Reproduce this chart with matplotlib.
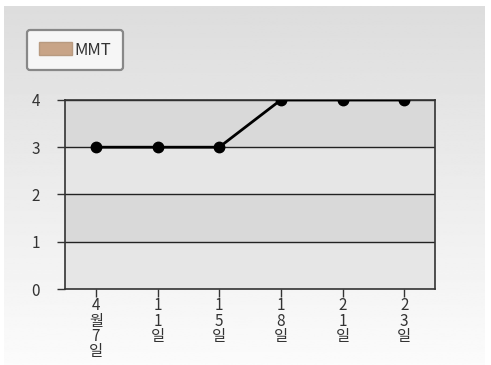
import matplotlib
matplotlib.use("Agg")
import matplotlib.pyplot as plt
import numpy as np
from matplotlib.patches import Patch

plt.rcParams['font.family'] = ['Noto Sans CJK KR', 'DejaVu Sans']

# data
dates = ["4\n월\n7\n일", "1\n1\n일", "1\n5\n일", "1\n8\n일", "2\n1\n일", "2\n3\n일"]
mmt = [3, 3, 3, 4, 4, 4]
y_ticks = [0, 1, 2, 3, 4]


def main():
    fig = plt.figure(figsize=(4.91, 3.65), dpi=100)

    # background gradient, light gray at top to near white at bottom
    bg = fig.add_axes([4 / 491, 0, 481 / 491, 359 / 365], zorder=-10)
    grad = np.linspace(0.865, 0.985, 256).reshape(-1, 1)
    bg.imshow(grad, aspect="auto", cmap="gray", vmin=0, vmax=1,
              extent=[0, 1, 0, 1], origin="upper")
    bg.axis("off")

    ax = fig.add_axes([0.1324, 0.2082, 0.7536, 0.518])
    ax.set_facecolor("none")
    x = np.arange(len(dates))

    # alternating horizontal bands
    band_cols = ["#e6e6e6", "#d9d9d9", "#e6e6e6", "#d9d9d9"]
    for i, c in enumerate(band_cols):
        ax.axhspan(y_ticks[i], y_ticks[i + 1], color=c, zorder=0, lw=0)
    for yv in y_ticks[1:]:
        ax.axhline(yv, color="#222222", lw=1.0, zorder=1)

    ax.plot(x, mmt, color="black", lw=2.0, marker="o", ms=7.5, zorder=3)

    ax.set_xlim(-0.5, len(dates) - 0.5)
    ax.set_ylim(0, 4)
    ax.set_yticks(y_ticks)
    ax.set_xticks(x)
    ax.set_xticklabels(dates, linespacing=0.86)
    ax.tick_params(axis="y", length=6, width=1, color="#333333",
                   labelsize=11, labelcolor="#333333", pad=12)
    ax.tick_params(axis="x", length=6, width=1, color="#333333",
                   labelsize=11, labelcolor="#333333", pad=0)
    for s in ax.spines.values():
        s.set_color("#333333")
        s.set_linewidth(1.2)

    handles = [Patch(facecolor="#c8a487", edgecolor="#b89a80", label="MMT")]
    leg = fig.legend(handles=handles, loc="upper left",
                     bbox_to_anchor=(0.055, 0.918), fancybox=True,
                     framealpha=1, facecolor="#f6f6f6", edgecolor="#888888",
                     fontsize=12, handlelength=2.0, handleheight=0.8,
                     handletextpad=0.15, borderpad=0.7, borderaxespad=0)
    leg.get_frame().set_linewidth(1.6)
    for t in leg.get_texts():
        t.set_color("#333333")

    fig.savefig("out.png", dpi=100)


if __name__ == '__main__':
    main()
